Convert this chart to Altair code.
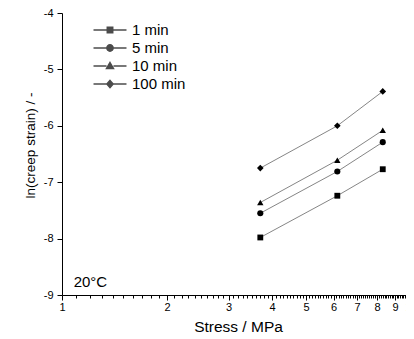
import altair as alt
import pandas as pd

# ---- data ----
stress = [3.7, 6.15, 8.3]                     # MPa
series = ["1 min", "5 min", "10 min", "100 min"]
strain_1min = [-7.98, -7.24, -6.77]
strain_5min = [-7.55, -6.81, -6.29]
strain_10min = [-7.36, -6.61, -6.08]
strain_100min = [-6.75, -6.00, -5.39]

x_major = [1, 2, 3, 4, 5, 6, 7, 8, 9, 10]
y_major = [-9, -8, -7, -6, -5, -4]
annotation = "20°C"

FONT = "Liberation Sans"

values = [strain_1min, strain_5min, strain_10min, strain_100min]
rows = []
for name, ys in zip(series, values):
    for s, v in zip(stress, ys):
        rows.append({"series": name, "stress": s, "strain": v})
df = pd.DataFrame(rows)

# tick positions (major + minor)
x_ticks = []
for m in x_major[:-1]:
    for k in range(10):
        x_ticks.append(round(m + k * 0.1, 4))
x_ticks.append(10)
y_ticks = [y / 2 for y in range(-18, -7)]

is_major = "abs(datum.value - round(datum.value)) < 1e-6"
lab = f"{is_major} ? '' + round(datum.value) : ''"
tick_size = {"condition": {"test": is_major, "value": 5}, "value": 3}

x_enc = alt.X(
    "stress:Q",
    scale=alt.Scale(type="log", domain=[1, 10], nice=False, range=[0, 349]),
    axis=alt.Axis(
        values=x_ticks, labelExpr=lab, tickSize=tick_size, grid=False,
        labelOverlap=False, labelFlush=False, labelPadding=1,
        title="Stress / MPa", titleFontSize=15.5, titlePadding=7,
        titleFontWeight="normal", titleX=176,
    ),
)
y_enc = alt.Y(
    "strain:Q",
    scale=alt.Scale(domain=[-9, -4], nice=False, zero=False),
    axis=alt.Axis(
        values=y_ticks, labelExpr=lab, tickSize=tick_size, grid=False,
        labelOverlap=False, labelFlush=False, labelPadding=4,
        title="ln(creep strain) / -", titleFontSize=13.5,
        titleFontWeight="normal", titleX=-32, titleY=132,
        titleBaseline="middle",
    ),
)

base = alt.Chart(df)

lines = base.mark_line(color="#777777", strokeWidth=0.9).encode(
    x=x_enc, y=y_enc, detail="series:N"
)

points = base.mark_point(filled=True, color="black", opacity=1).encode(
    x="stress:Q",
    y="strain:Q",
    shape=alt.Shape("series:N", scale=alt.Scale(
        domain=series, range=["square", "circle", "triangle-up", "diamond"]),
        legend=None),
    size=alt.Size("series:N", scale=alt.Scale(domain=series, range=[34, 44, 46, 52]),
                  legend=None),
)

# legend symbols: line - marker - line
seg = "M-2,0H-0.42M0.42,0H2"
legend_paths = [
    seg + "M-0.33,-0.33H0.33V0.33H-0.33Z",
    seg + "M0.38,0A0.38,0.38 0 1,1 -0.38,0A0.38,0.38 0 1,1 0.38,0Z",
    seg + "M0,-0.42L0.42,0.3H-0.42Z",
    seg + "M0,-0.44L0.38,0L0,0.44L-0.38,0Z",
]
legend_layer = base.transform_filter("false").mark_point(
    filled=True, fill="black", stroke="black", strokeWidth=1, size=272
).encode(
    x="stress:Q",
    y="strain:Q",
    shape=alt.Shape("series:N", scale=alt.Scale(domain=series, range=legend_paths),
                    legend=alt.Legend(
                        title=None, orient="none", legendX=39, legendY=8,
                        labelFont=FONT, labelFontSize=15, labelColor="black",
                        labelOffset=13, rowPadding=1, padding=0,
                        symbolSize=272,
                    )),
)

ann = alt.Chart(pd.DataFrame({"t": [annotation], "x": [1.08], "y": [-8.86]})).mark_text(
    align="left", baseline="alphabetic", font=FONT, fontSize=15, color="black"
).encode(x="x:Q", y="y:Q", text="t:N")

chart = (
    alt.layer(lines, points, legend_layer, ann)
    .resolve_scale(shape="independent", size="independent")
    .resolve_legend(shape="independent")
    .properties(
        width=344, height=282,
        autosize=alt.AutoSizeParams(type="none"),
        padding={"left": 54, "top": 5, "right": 0, "bottom": 44},
    )
    .configure_view(stroke=None)
    .configure_axis(
        labelFont=FONT, titleFont=FONT, labelFontSize=11, labelColor="black",
        titleColor="black", domainColor="black", tickColor="black",
        domainWidth=1, tickWidth=1,
    )
)

chart.save("out.html", embed_options={"renderer": "svg", "actions": False})
